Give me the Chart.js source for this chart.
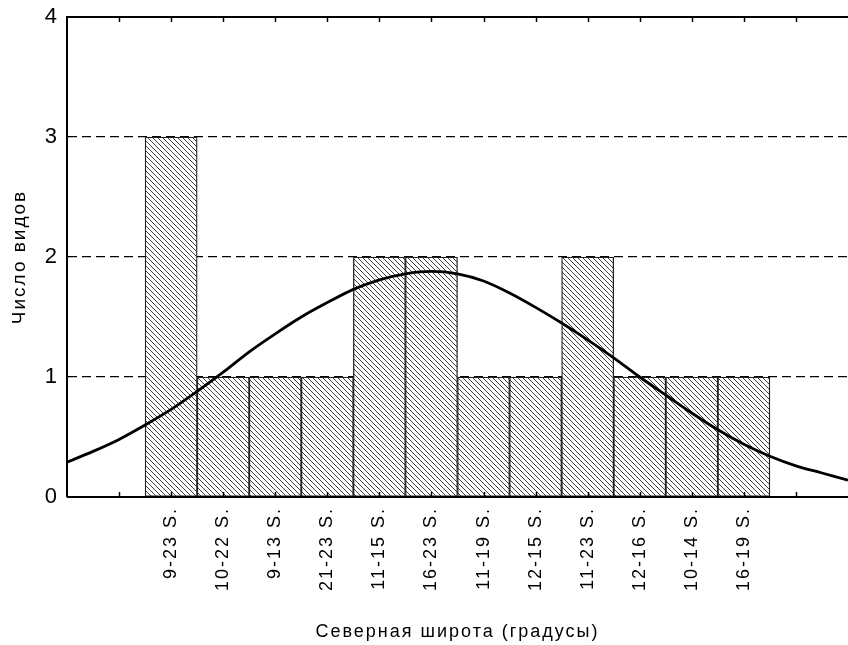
<!DOCTYPE html>
<html>
<head>
<meta charset="utf-8">
<script src="https://cdn.jsdelivr.net/npm/chart.js@4/dist/chart.umd.min.js"></script>
<style>
  html, body { margin: 0; padding: 0; background: #fff; }
  #grafico { display: block; }
</style>
</head>
<body>
<canvas id="grafico" width="848" height="645"></canvas>
<script>
// Datos
var etiquetas = ['9-23 S.', '10-22 S.', '9-13 S.', '21-23 S.', '11-15 S.', '16-23 S.',
	'11-19 S.', '12-15 S.', '11-23 S.', '12-16 S.', '10-14 S.', '16-19 S.'];
var valores = [3, 1, 1, 1, 2, 2, 1, 1, 2, 1, 1, 1];
// curva ajustada (posicion en el eje, valor)
var curvaX = [0, 0.5, 1, 1.5, 2, 2.5, 3, 3.5, 4, 4.5, 5, 5.5, 6, 6.5, 7, 7.5,
	8, 8.5, 9, 9.5, 10, 10.5, 11, 11.5, 12, 12.5, 13, 13.5, 14, 14.5, 15];
var curvaY = [0.29, 0.38, 0.48, 0.60, 0.73, 0.88, 1.04, 1.21, 1.36, 1.50, 1.62, 1.73, 1.81, 1.86, 1.88, 1.86,
	1.80, 1.70, 1.58, 1.45, 1.31, 1.16, 1.00, 0.85, 0.70, 0.56, 0.44, 0.34, 0.26, 0.20, 0.14];
var ticksY = [0, 1, 2, 3, 4];
var huecos = 2; // categorias vacias a cada lado

//<editor-fold defaultstate="collapsed" desc="Funciones">
function crearRayado() {
	var c = document.createElement('canvas');
	c.width = 5;
	c.height = 5;
	var g = c.getContext('2d');
	g.fillStyle = '#fff';
	g.fillRect(0, 0, 5, 5);
	g.strokeStyle = '#2a2a2a';
	g.lineWidth = 0.9;
	g.beginPath();
	g.moveTo(0, 0); g.lineTo(5, 5);
	g.moveTo(-1, 4); g.lineTo(1, 6);
	g.moveTo(4, -1); g.lineTo(6, 1);
	g.stroke();
	return g.createPattern(c, 'repeat');
}

var espaciado = {
	id: 'espaciado',
	beforeLayout: function (chart) { chart.ctx.letterSpacing = '2px'; },
	beforeDraw: function (chart) { chart.ctx.letterSpacing = '2px'; }
};

var marco = {
	id: 'marco',
	afterDatasetsDraw: function (chart) {
		var ctx = chart.ctx;
		var a = chart.chartArea;
		var sx = chart.scales.x;
		var izq = sx.getPixelForValue(0);
		var der = sx.getPixelForValue(sx.ticks.length - 1);
		ctx.save();
		ctx.strokeStyle = '#000';
		ctx.lineWidth = 2;
		ctx.beginPath();
		ctx.moveTo(izq, a.top); ctx.lineTo(der, a.top);
		ctx.moveTo(izq, a.bottom); ctx.lineTo(der, a.bottom);
		ctx.stroke();
		ctx.lineWidth = 1.5;
		ctx.beginPath();
		for (var i = 1; i < sx.ticks.length - 1; i++) {
			var px = Math.round(sx.getPixelForTick(i)) + 0.5;
			ctx.moveTo(px, a.top); ctx.lineTo(px, a.top + 5);
			ctx.moveTo(px, a.bottom); ctx.lineTo(px, a.bottom - 5);
		}
		ctx.stroke();
		ctx.restore();
	}
};
//</editor-fold>

var etiquetasEje = [];
var datosBarras = [];
for (var i = 0; i < huecos; i++) { etiquetasEje.push(''); datosBarras.push(null); }
etiquetas.forEach(function (e, k) { etiquetasEje.push(e); datosBarras.push(valores[k]); });
for (var j = 0; j < huecos; j++) { etiquetasEje.push(''); datosBarras.push(null); }

var puntosCurva = curvaX.map(function (x, k) { return {x: x, y: curvaY[k]}; });

Chart.defaults.font.family = '"Liberation Sans", Arial, sans-serif';
Chart.defaults.color = '#000';

var ctx = document.getElementById('grafico').getContext('2d');
var grafico = new Chart(ctx, {
	type: 'bar',
	data: {
		labels: etiquetasEje,
		datasets: [{
			type: 'line',
			data: puntosCurva,
			xAxisID: 'xc',
			borderColor: '#000',
			borderWidth: 2.8,
			pointRadius: 0,
			cubicInterpolationMode: 'monotone',
			fill: false,
			order: 0
		}, {
			type: 'bar',
			data: datosBarras,
			backgroundColor: crearRayado(),
			borderColor: '#222',
			borderWidth: 1.3,
			borderSkipped: false,
			grouped: false,
			barPercentage: 1,
			categoryPercentage: 1,
			order: 1
		}]
	},
	options: {
		responsive: false,
		animation: false,
		layout: { padding: { top: 17, right: 0, left: 0, bottom: 0 } },
		plugins: { legend: { display: false }, tooltip: { enabled: false } },
		scales: {
			x: {
				type: 'category',
				offset: false,
				grid: { display: false, drawTicks: false },
				border: { display: false },
				ticks: {
					autoSkip: false,
					maxRotation: 90,
					minRotation: 90,
					padding: 10,
					font: { size: 18 }
				},
				title: {
					display: true,
					text: 'Северная широта (градусы)',
					font: { size: 18 },
					padding: { top: 0, bottom: 2 }
				},
				afterFit: function (s) {
					s.height = 148;
					s.paddingLeft = 0;
					s.paddingRight = 0;
				}
			},
			xc: {
				type: 'linear',
				display: false,
				offset: false,
				grid: { offset: false },
				min: 0,
				max: 15
			},
			y: {
				min: 0,
				max: 4,
				afterBuildTicks: function (s) {
					s.ticks = ticksY.map(function (v) { return {value: v}; });
				},
				grid: {
					drawTicks: false,
					lineWidth: 1.2,
					color: function (c) {
						return (c.tick && (c.tick.value === 0 || c.tick.value === 4)) ? 'rgba(0,0,0,0)' : '#000';
					}
				},
				border: { display: true, color: '#000', width: 2, dash: [9, 5] },
				ticks: { padding: 8, font: { size: 22 } },
				title: {
					display: true,
					text: 'Число видов',
					font: { size: 19 },
					padding: { top: 8, bottom: 0 }
				},
				afterFit: function (s) {
					s.width = 67;
					s.paddingTop = 0;
					s.paddingBottom = 0;
				}
			}
		}
	},
	plugins: [espaciado, marco]
});
</script>
</body>
</html>
